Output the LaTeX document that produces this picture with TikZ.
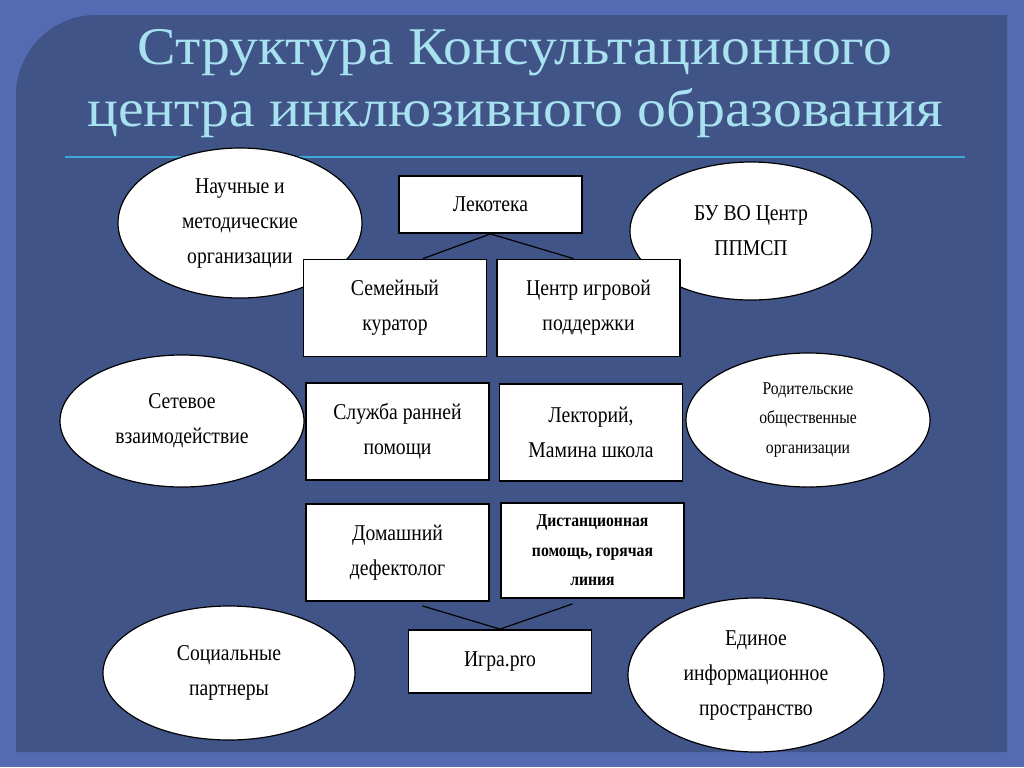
\documentclass[tikz,border=0pt]{standalone}
\usepackage{fontspec}
\setmainfont{Liberation Serif}
\newfontfamily\titlefont{Liberation Serif}[FakeStretch=1.09]
\newfontfamily\boxfont{Liberation Serif}[FakeStretch=0.87]
\usetikzlibrary{shapes.geometric,calc}
\definecolor{slideblue}{RGB}{84,106,178}
\definecolor{panelblue}{RGB}{64,84,135}
\definecolor{titlecyan}{RGB}{168,226,240}
\definecolor{rulecyan}{RGB}{62,168,218}

\begin{document}
\begin{tikzpicture}[x=0.5pt,y=-0.5pt]
            \tikzstyle{unit} = [rectangle, draw, line width=0.9pt, fill=white, minimum width=91.5pt, minimum height=48.5pt, inner sep=2pt, align=center, font=\boxfont\fontsize{11.3}{17.5}\selectfont]
            \tikzstyle{partner} = [ellipse, draw, line width=0.6pt, fill=white, inner sep=0pt, align=center, font=\boxfont\fontsize{11.3}{17.5}\selectfont]
            \tikzstyle{small} = [font=\boxfont\fontsize{9}{14.75}\selectfont]
            \tikzstyle{link} = [line width=0.6pt]

            \useasboundingbox (0,0) rectangle (1024,767);
            \fill [slideblue] (0,0) rectangle (1024,767);
            \fill [panelblue] (16,752) -- (16,95) .. controls (16,51) and (52,15) .. (96,15) -- (1007,15) -- (1007,752) -- cycle;

            \node (title) [font=\titlefont\fontsize{26.5}{31}\selectfont, text=titlecyan, align=center, inner sep=0pt] at (515,84) {Структура Консультационного\\центра инклюзивного образования};
            \draw [rulecyan, line width=1pt] (65,157) -- (965,157);

            \node (nauchnye) [partner, minimum width=122pt, minimum height=75pt] at (240,223) {Научные и\\методические\\организации};
            \node (bu) [partner, minimum width=121pt, minimum height=69pt] at (751,231) {БУ ВО Центр\\ППМСП};
            \node (setevoe) [partner, minimum width=122pt, minimum height=66pt] at (182,421) {Сетевое\\взаимодействие};
            \node (roditel) [partner, small, minimum width=122pt, minimum height=67pt] at (808,420) {Родительские\\общественные\\организации};
            \node (social) [partner, minimum width=126pt, minimum height=67pt] at (229,673) {Социальные\\партнеры};
            \node (edinoe) [partner, minimum width=128pt, minimum height=77pt] at (756,675) {Единое\\информационное\\пространство};

            \node (lekoteka) [unit, minimum height=28.5pt] at (490.5,204.5) {Лекотека};
            \node (semeyny) [unit] at (395,308) {Семейный\\куратор};
            \node (centr) [unit] at (588.5,308) {Центр игровой\\поддержки};
            \node (sluzhba) [unit] at (397.5,431.5) {Служба ранней\\помощи};
            \node (lektory) [unit] at (591,432.5) {Лекторий,\\Мамина школа};
            \node (domashny) [unit] at (397.5,552.5) {Домашний\\дефектолог};
            \node (distanc) [unit, small, minimum height=47.5pt] at (592.5,550.5) {\bfseries Дистанционная\\\bfseries помощь, горячая\\\bfseries линия};
            \node (igra) [unit, minimum height=31.5pt] at (500,661.5) {Игра.pro};

            \draw [link] (lekoteka.south) -- ($(semeyny.north)+(28,0)$);
            \draw [link] (lekoteka.south) -- ($(centr.north)+(-15,0)$);
            \draw [link] ($(domashny.south)+(25,4)$) -- (igra.north);
            \draw [link] ($(distanc.south)+(-20,5)$) -- (igra.north);
        \end{tikzpicture}
\end{document}
